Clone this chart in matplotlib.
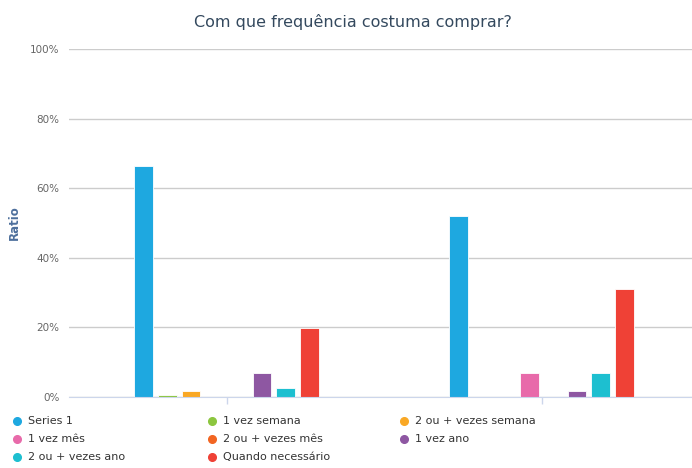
# -*- coding: utf-8 -*-
import numpy as np
import matplotlib.pyplot as plt
from matplotlib.lines import Line2D
from matplotlib.ticker import FuncFormatter

plt.rcParams['font.family'] = ['DejaVu Sans']

# dados (percentagem de respostas)
categorias = ["", ""]
series_nomes = ["Series 1", "1 vez semana", "2 ou + vezes semana",
                "1 vez mês", "2 ou + vezes mês", "1 vez ano",
                "2 ou + vezes ano", "Quando necessário"]
series_1 = [66.4, 52.0]
vez_semana_1 = [0.5, 0.0]
vezes_semana_2 = [1.8, 0.0]
vez_mes_1 = [0.0, 6.8]
vezes_mes_2 = [0.0, 0.0]
vez_ano_1 = [6.8, 1.7]
vezes_ano_2 = [2.6, 6.8]
quando_necessario = [19.7, 30.9]
cores = ["#1ea8e0", "#8cc63f", "#f9a825", "#e86aaa",
         "#f26522", "#8e57a2", "#1dbfd0", "#ef4136"]

valores = [series_1, vez_semana_1, vezes_semana_2, vez_mes_1,
           vezes_mes_2, vez_ano_1, vezes_ano_2, quando_necessario]

W, H = 692, 468
fig = plt.figure(figsize=(W / 100, H / 100), dpi=100)

# área do gráfico (em pixels) -> fração da figura
x0, x1 = 69, 699
y_top, y_bot = 49, 397
ax = fig.add_axes([x0 / W, 1 - y_bot / H, (x1 - x0) / W, (y_bot - y_top) / H])

x = np.arange(len(categorias))
n = len(valores)
slot = 0.6 / n
largura = 0.0595
for i, (vals, cor) in enumerate(zip(valores, cores)):
    ax.bar(x + (i - (n - 1) / 2) * slot, vals, width=largura, color=cor,
           edgecolor="white", linewidth=0.6, zorder=3)

ax.set_xlim(-0.5, len(categorias) - 0.5)
ax.set_ylim(0, 100)
ax.set_yticks(np.arange(0, 101, 20))
ax.yaxis.set_major_formatter(FuncFormatter(lambda v, p: f"{v:.0f}%"))
ax.set_xticks(x)
ax.set_xticklabels(categorias)

ax.grid(axis="y", color="#cccccc", linewidth=1, zorder=0)
for s in ["top", "right", "left"]:
    ax.spines[s].set_visible(False)
ax.spines["bottom"].set_color("#ccd6eb")
ax.spines["bottom"].set_zorder(4)
ax.tick_params(axis="y", length=0, labelsize=7.5, labelcolor="#666666", pad=7)
ax.tick_params(axis="x", length=5, color="#ccd6eb", width=1)

ax.set_ylabel("Ratio", fontsize=8.5, fontweight="bold", color="#4d6f9c")
ax.yaxis.set_label_coords(-48 / (x1 - x0), 0.5)

fig.text(353 / W, 1 - 22 / H, "Com que frequência costuma comprar?",
         ha="center", va="center", fontsize=11.5, color="#34495e")

# legenda em três colunas
col_x = [17, 212, 404]
row_y = [421, 439, 457]
for i, (nome, cor) in enumerate(zip(series_nomes, cores)):
    r, c = divmod(i, 3)
    mx, my = col_x[c] / W, 1 - row_y[r] / H
    fig.add_artist(Line2D([mx], [my], marker="o", markersize=5.5, color=cor,
                          linestyle="none", transform=fig.transFigure))
    fig.text(mx + 11 / W, my, nome, ha="left", va="center",
             fontsize=8, color="#333333")

fig.savefig("out.png", dpi=100)
